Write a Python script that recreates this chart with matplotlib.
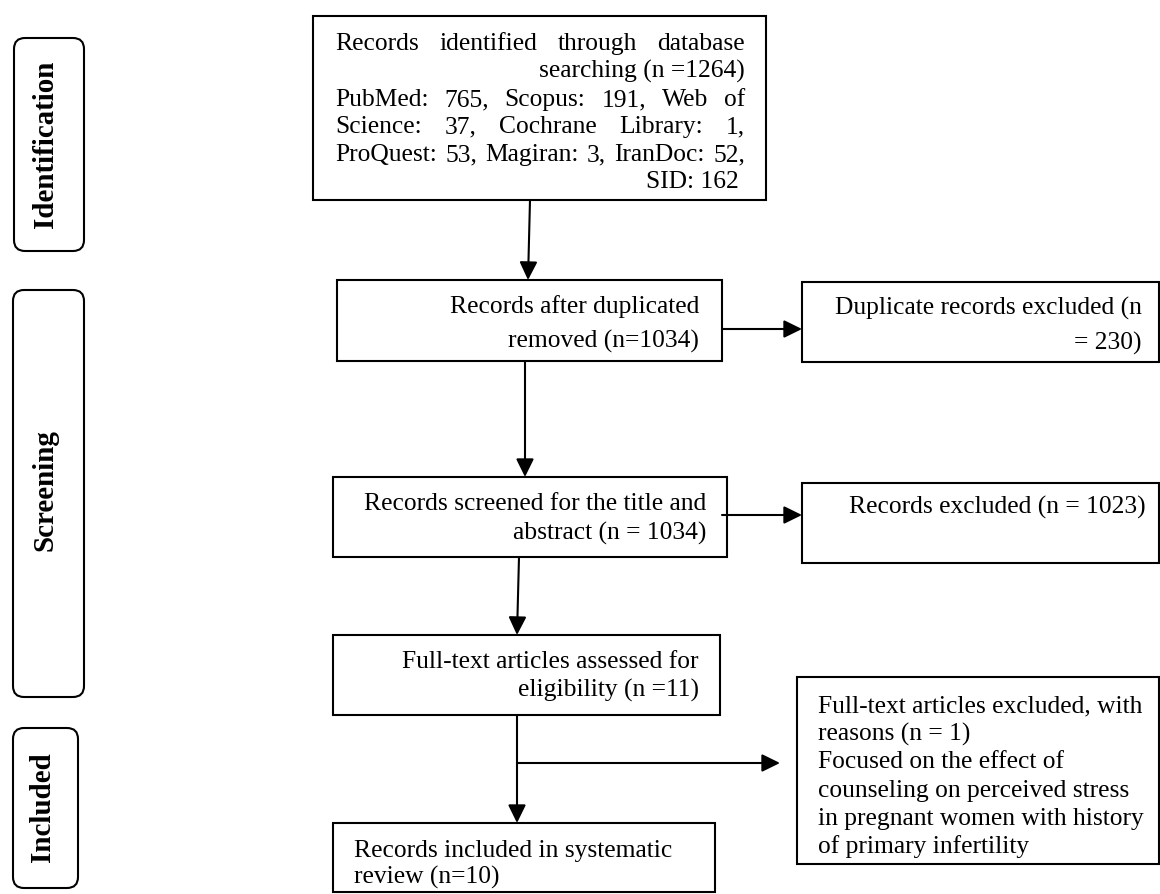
import matplotlib
matplotlib.use("Agg")
import matplotlib.pyplot as plt
from matplotlib.patches import FancyBboxPatch, Rectangle

# ---------------- data ----------------
stage_labels = ["Identification", "Screening", "Included"]
source_names = ["PubMed", "Scopus", "Web of Science", "Cochrane Library",
                "ProQuest", "Magiran", "IranDoc", "SID"]
source_counts = [765, 191, 37, 1, 53, 3, 52, 162]
n_identified = 1264
n_after_dup = 1034
n_duplicates = 230
n_screened = 1034
n_excluded = 1023
n_fulltext = 11
n_fulltext_excluded = 1
n_included = 10
exclusion_reason = ["Focused on the effect of",
                    "counseling on perceived stress",
                    "in pregnant women with history",
                    "of primary infertility"]

# ---------------- figure ----------------
W, H = 1160, 894
fig = plt.figure(figsize=(W / 100, H / 100), dpi=100)
ax = fig.add_axes([0, 0, 1, 1])
ax.set_xlim(0, W)
ax.set_ylim(H, 0)
ax.axis("off")

FONT = "Liberation Serif"
LW = 1.5
renderer = fig.canvas.get_renderer()


def text_width(s, size, weight="normal"):
    t = ax.text(0, 0, s, fontsize=size, family=FONT, weight=weight)
    w = t.get_window_extent(renderer).width
    t.remove()
    return w


FS = 10 * 325 / text_width("Full-text articles excluded, with", 10)
FSB = 10 * 168 / text_width("Identification", 10, "bold")


def box(x0, y0, x1, y1):
    ax.add_patch(Rectangle((x0, y0), x1 - x0, y1 - y0, fill=False,
                           edgecolor="black", lw=LW, clip_on=True))


def rbox(x0, y0, x1, y1, label, cy):
    ax.add_patch(FancyBboxPatch((x0, y0), x1 - x0, y1 - y0,
                                boxstyle="round,pad=0,rounding_size=11",
                                fill=False, edgecolor="black", lw=LW))
    ax.text((x0 + x1) / 2 - 3, cy, label, rotation=90, ha="center",
            va="center", fontsize=FSB, family=FONT, weight="bold")


def txt(x, y, s, ha="left", clip=None):
    t = ax.text(x, y, s, ha=ha, va="baseline", fontsize=FS, family=FONT)
    if clip is not None:
        r = Rectangle((clip[0], clip[1]), clip[2] - clip[0], clip[3] - clip[1],
                      transform=ax.transData, visible=False)
        ax.add_patch(r)
        t.set_clip_path(r)
    return t


def justified(words, x0, x1, y):
    widths = [text_width(w, FS) for w in words]
    gap = (x1 - x0 - sum(widths)) / (len(words) - 1)
    x = x0
    for w, wd in zip(words, widths):
        ax.text(x, y, w, ha="left", va="baseline", fontsize=FS, family=FONT)
        x += wd + gap


def arrow(x0, y0, x1, y1):
    ax.annotate("", xy=(x1, y1), xytext=(x0, y0),
                arrowprops=dict(arrowstyle="-|>,head_length=0.55,head_width=0.27",
                                mutation_scale=20, lw=LW, color="black",
                                shrinkA=0, shrinkB=0))


# ---------------- stage labels ----------------
rbox(14, 38, 84, 251, stage_labels[0], 144)
rbox(13, 290, 84, 697, stage_labels[1], 490)
rbox(13, 728, 78, 888, stage_labels[2], 807)

# ---------------- box 1: identification ----------------
box(313, 16, 766, 200)
c = source_counts
justified(["Records", "identified", "through", "database"], 335, 745, 50)
txt(745, 78, f"searching (n ={n_identified})", ha="right")
justified(["PubMed:", f"{c[0]},", "Scopus:", f"{c[1]},", "Web", "of"],
          335, 745, 106)
justified(["Science:", f"{c[2]},", "Cochrane", "Library:", f"{c[3]},"],
          335, 745, 133)
justified(["ProQuest:", f"{c[4]},", "Magiran:", f"{c[5]},", "IranDoc:",
           f"{c[6]},"], 335, 745, 161)
txt(739, 188, f"SID: {c[7]}", ha="right")

# ---------------- box 2: after duplicates ----------------
box(337, 280, 722, 361)
txt(699, 313, "Records after duplicated", ha="right")
txt(699, 348, f"removed (n={n_after_dup})", ha="right")

box(802, 282, 1159, 362)
txt(1142, 315, "Duplicate records excluded (n", ha="right")
txt(1142, 350, f"= {n_duplicates})", ha="right")

# ---------------- box 3: screened ----------------
box(333, 477, 727, 557)
txt(706, 510, "Records screened for the title and", ha="right")
txt(706, 540, f"abstract (n = {n_screened})", ha="right")

box(802, 483, 1159, 563)
txt(1146, 514, f"Records excluded (n = {n_excluded})", ha="right")

# ---------------- box 4: full text ----------------
box(333, 635, 720, 715)
txt(699, 668, "Full-text articles assessed for", ha="right")
txt(699, 697, f"eligibility (n ={n_fulltext})", ha="right")

box(797, 677, 1159, 864)
excl_lines = ["Full-text articles excluded, with",
              f"reasons (n = {n_fulltext_excluded})"] + exclusion_reason
for i, line in enumerate(excl_lines):
    txt(818, 712 + i * 28.2, line, clip=(797, 677, 1170, 856))

# ---------------- box 5: included ----------------
box(333, 823, 715, 892)
txt(354, 857, "Records included in systematic")
txt(354, 884, f"review (n={n_included})")

# ---------------- arrows ----------------
arrow(530, 200, 528, 280)
arrow(525, 361, 525, 477)
arrow(722, 329, 802, 329)
arrow(519, 557, 517, 635)
arrow(722, 515, 802, 515)
arrow(517, 715, 517, 823)
arrow(517, 763, 780, 763)

fig.savefig("out.png", dpi=100)
